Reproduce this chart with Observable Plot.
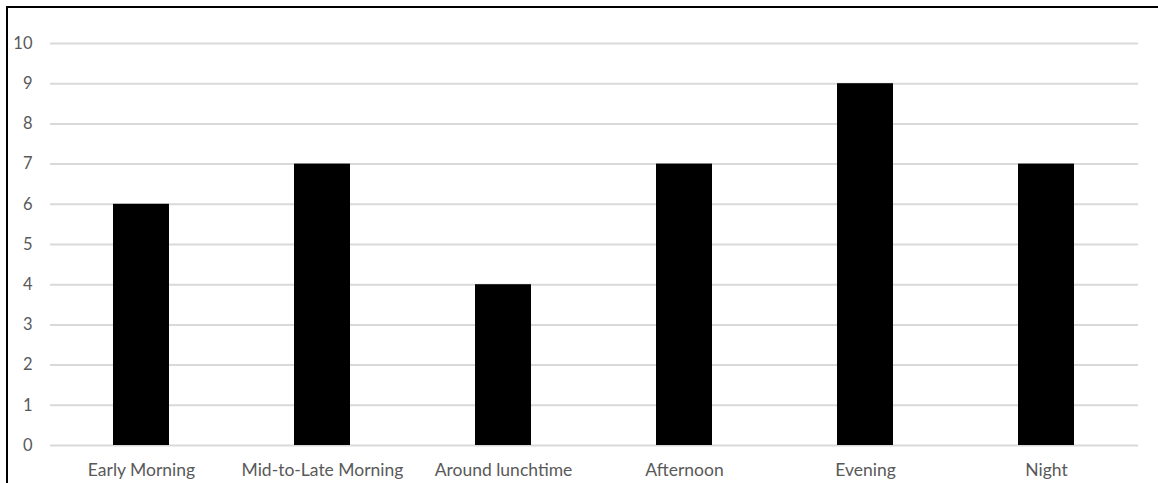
<!DOCTYPE html>
<html>
<head>
<meta charset="utf-8">
<script src="https://cdn.jsdelivr.net/npm/d3@7"></script>
<script src="https://cdn.jsdelivr.net/npm/@observablehq/plot@0.6"></script>
<style>
  html, body { margin: 0; padding: 0; background: #fff; overflow: hidden; }
  #frame {
    position: absolute; left: 6px; top: 6px;
    width: 1160px; height: 490px;
    border-left: 2px solid #000; border-top: 2px solid #000;
    overflow: hidden;
  }
  #title {
    position: absolute; top: -16px; left: 618px; transform: translateX(-50%);
    font: 19px Lato, sans-serif; line-height: 20px; color: #595959;
    white-space: nowrap;
  }
  #chart { position: absolute; left: 0; top: 0; }
</style>
</head>
<body>
<div id="frame">
  <div id="title">Total</div>
  <div id="chart"></div>
</div>
<script>
// Number of responses per time of day
const periods = ["Early Morning", "Mid-to-Late Morning", "Around lunchtime", "Afternoon", "Evening", "Night"];
const totals = [6, 7, 4, 7, 9, 7];
const yTicks = [0, 1, 2, 3, 4, 5, 6, 7, 8, 9, 10];

const data = periods.map((period, i) => ({period, total: totals[i]}));

const chart = Plot.plot({
  width: 1150,
  height: 475,
  marginLeft: 42,
  marginRight: 20,
  marginTop: 35,
  marginBottom: 38,
  style: {fontFamily: "Lato, sans-serif", fontSize: "16px", color: "#595959", background: "#fff"},
  x: {domain: periods, paddingInner: 0.69, paddingOuter: 0.345, label: null},
  y: {domain: [0, 10], label: null},
  marks: [
    Plot.ruleY(yTicks, {stroke: "#d9d9d9", strokeWidth: 2}),
    Plot.barY(data, {x: "period", y: "total", fill: "#000"}),
    Plot.axisY({ticks: yTicks, tickSize: 0, tickPadding: 18, label: null, fill: "#595959", fontSize: 16.5}),
    Plot.axisX({tickSize: 0, tickPadding: 18, label: null, fill: "#595959", fontSize: 17.5})
  ]
});
document.getElementById("chart").appendChild(chart);
</script>
</body>
</html>
